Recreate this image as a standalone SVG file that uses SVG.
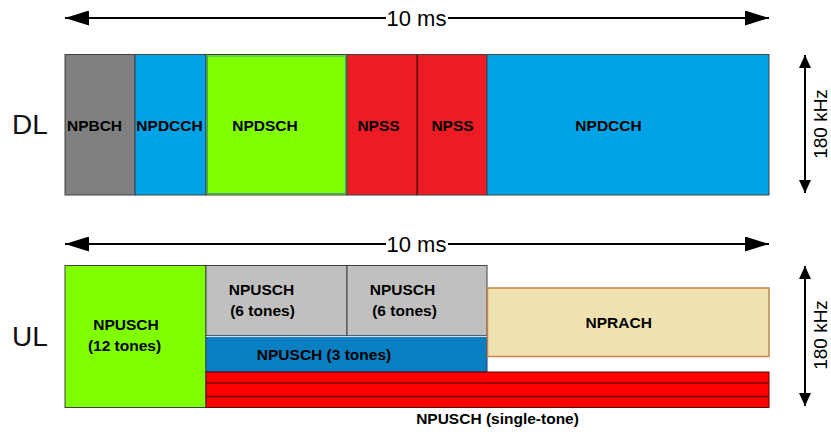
<svg xmlns="http://www.w3.org/2000/svg" width="831" height="432" viewBox="0 0 831 432">
  <style>
    .lbl { font-family: "Liberation Sans", Arial, sans-serif; font-weight: bold; font-size: 15.5px; fill: #000; text-anchor: middle; }
    .side { font-family: "Liberation Sans", Arial, sans-serif; font-size: 28px; fill: #111; }
    .dim { font-family: "Liberation Sans", Arial, sans-serif; font-size: 22px; fill: #000; }
    .dimv { font-family: "Liberation Sans", Arial, sans-serif; font-size: 19px; fill: #000; text-anchor: middle; }
    .cell { stroke: #404040; stroke-width: 1; }
    .dimline { stroke: #000; stroke-width: 2; fill: none; }
  </style>
  <defs>
    <marker id="headH" markerUnits="userSpaceOnUse" markerWidth="24" markerHeight="15" refX="24" refY="7.5" orient="auto-start-reverse">
      <path d="M0,0 L24,7.5 L0,15 z" fill="#000"/>
    </marker>
    <marker id="headV" markerUnits="userSpaceOnUse" markerWidth="13" markerHeight="12" refX="13" refY="6" orient="auto-start-reverse">
      <path d="M0,0 L13,6 L0,12 z" fill="#000"/>
    </marker>
  </defs>

  <rect width="831" height="432" fill="#fff"/>

  <!-- row labels -->
  <text class="side" x="12" y="134">DL</text>
  <text class="side" x="12" y="346">UL</text>

  <!-- downlink frame -->
  <g id="dl-npbch">
    <rect class="cell" x="65" y="54.5" width="70" height="140.5" fill="#808080"/>
    <text class="lbl" x="94.5" y="131">NPBCH</text>
  </g>
  <g id="dl-npdcch-1">
    <rect class="cell" x="135" y="54.5" width="71" height="140.5" fill="#00A3E6"/>
    <text class="lbl" x="169.5" y="131">NPDCCH</text>
  </g>
  <g id="dl-npdsch">
    <rect class="cell" x="206" y="54.5" width="141" height="140.5" fill="#80FF00"/>
    <rect x="207.5" y="56" width="138" height="137.5" fill="none" stroke="#3BA57A" stroke-width="1"/>
    <text class="lbl" x="265" y="131">NPDSCH</text>
  </g>
  <g id="dl-npss-1">
    <rect class="cell" x="347" y="54.5" width="70" height="140.5" fill="#ED1C24"/>
    <line x1="417" y1="55" x2="417" y2="195" stroke="#8B0000" stroke-width="1.2"/>
    <text class="lbl" x="378.5" y="131">NPSS</text>
  </g>
  <g id="dl-npss-2">
    <rect class="cell" x="417" y="54.5" width="70" height="140.5" fill="#ED1C24"/>
    <line x1="417.5" y1="55" x2="417.5" y2="195" stroke="#8B0000" stroke-width="1.2"/>
    <text class="lbl" x="452.5" y="131">NPSS</text>
  </g>
  <g id="dl-npdcch-2">
    <rect class="cell" x="487" y="54.5" width="282" height="140.5" fill="#00A3E6"/>
    <text class="lbl" x="608.5" y="131">NPDCCH</text>
  </g>

  <!-- uplink frame -->
  <g id="ul-npusch-12">
    <rect class="cell" x="65" y="265.5" width="141" height="142" fill="#80FF00"/>
    <text class="lbl" x="126" y="330">NPUSCH</text>
    <text class="lbl" x="124.5" y="351">(12 tones)</text>
  </g>
  <g id="ul-npusch-6a">
    <rect class="cell" x="206" y="265.5" width="141" height="70.5" fill="#C0C0C0"/>
    <text class="lbl" x="261.5" y="295">NPUSCH</text>
    <text class="lbl" x="262.5" y="316">(6 tones)</text>
  </g>
  <g id="ul-npusch-6b">
    <rect class="cell" x="347" y="265.5" width="140" height="70.5" fill="#C0C0C0"/>
    <text class="lbl" x="402.5" y="295">NPUSCH</text>
    <text class="lbl" x="404.5" y="316">(6 tones)</text>
  </g>
  <g id="ul-npusch-3">
    <rect x="206" y="336" width="281" height="36" fill="#0A7FC2" stroke="#1F3F70" stroke-width="1"/>
    <line x1="206" y1="336.5" x2="487" y2="336.5" stroke="#DDDDDD" stroke-width="1"/>
    <text class="lbl" x="324" y="360">NPUSCH (3 tones)</text>
  </g>
  <g id="ul-nprach">
    <rect x="487.5" y="288" width="281.5" height="68.5" fill="#F0E2B0" stroke="#C8834A" stroke-width="1.5"/>
    <text class="lbl" x="618.7" y="328">NPRACH</text>
  </g>
  <g id="ul-npusch-single">
    <rect x="206" y="372" width="563" height="35.5" fill="#FF0000" stroke="#600000" stroke-width="1"/>
    <line x1="206" y1="383" x2="769" y2="383" stroke="#700000" stroke-width="1.5"/>
    <line x1="206" y1="396.5" x2="769" y2="396.5" stroke="#700000" stroke-width="1.5"/>
    <text class="lbl" x="497.5" y="424">NPUSCH (single-tone)</text>
  </g>

  <!-- dimension arrows -->
  <g id="connectors">
    <line class="dimline" x1="65" y1="18" x2="386" y2="18" marker-start="url(#headH)"/>
    <line class="dimline" x1="448" y1="18" x2="769" y2="18" marker-end="url(#headH)"/>
    <line class="dimline" x1="65" y1="244" x2="386" y2="244" marker-start="url(#headH)"/>
    <line class="dimline" x1="448" y1="244" x2="769" y2="244" marker-end="url(#headH)"/>
    <line class="dimline" x1="805" y1="55" x2="805" y2="193" marker-start="url(#headV)" marker-end="url(#headV)"/>
    <line class="dimline" x1="805" y1="266" x2="805" y2="406" marker-start="url(#headV)" marker-end="url(#headV)"/>
  </g>

  <!-- dimension texts -->
  <text class="dim" x="386.5" y="26">10 ms</text>
  <text class="dim" x="386.5" y="252">10 ms</text>
  <text class="dimv" transform="translate(827 124) rotate(-90)">180 kHz</text>
  <text class="dimv" transform="translate(827 335) rotate(-90)">180 kHz</text>
</svg>
